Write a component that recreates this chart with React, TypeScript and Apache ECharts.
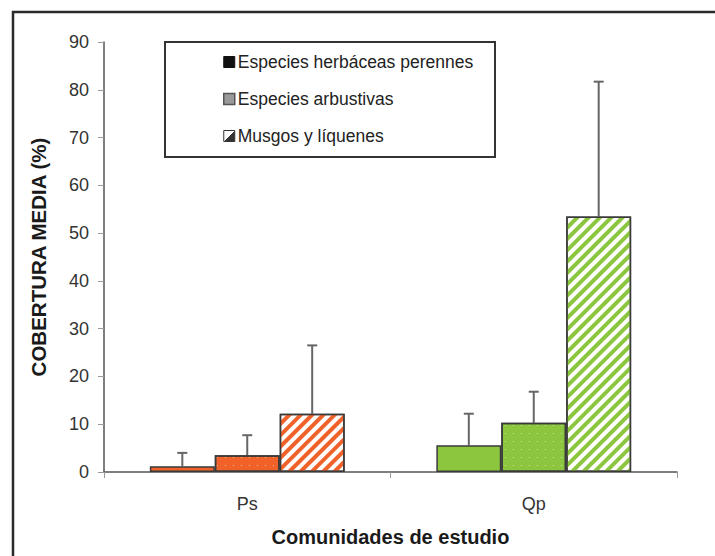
import React, { useEffect, useRef } from "react";
import * as echarts from "echarts";

const categories = ["Ps", "Qp"];
const seriesNames = ["Especies herbáceas perennes", "Especies arbustivas", "Musgos y líquenes"];
const herbaceas = [1.2, 5.6];
const arbustivas = [3.5, 10.3];
const musgos = [12.2, 53.5];
const herbaceasUpper = [4.0, 12.2];
const arbustivasUpper = [7.7, 16.8];
const musgosUpper = [26.5, 81.7];
const yTicks = [0, 10, 20, 30, 40, 50, 60, 70, 80, 90];
const groupColors = ["#f0622a", "#8cc63f"];
const dotColors = ["rgba(255,200,150,0.75)", "rgba(220,240,160,0.75)"];

const FONT = "Liberation Sans, Arial, sans-serif";
const BORDER = "#3a3a3a";
const CAT_GAP = 0.32;

export default function App() {
  const ref = useRef<HTMLDivElement>(null);
  useEffect(() => {
    if (!ref.current) return;
    const chart = echarts.init(ref.current, undefined, { renderer: "svg" });

    const solidData = herbaceas.map((v, i) => ({
      value: v,
      itemStyle: { color: groupColors[i], borderColor: BORDER, borderWidth: 1.5 },
    }));
    const dotData = arbustivas.map((v, i) => ({
      value: v,
      itemStyle: {
        color: groupColors[i],
        borderColor: BORDER,
        borderWidth: 1.5,
        decal: {
          symbol: "rect",
          symbolSize: 0.35,
          color: dotColors[i],
          dashArrayX: [[3, 5]],
          dashArrayY: [3, 5],
          rotation: 0,
        },
      },
    }));
    const hatchData = musgos.map((v, i) => ({
      value: v,
      itemStyle: {
        color: "#ffffff",
        borderColor: BORDER,
        borderWidth: 1.5,
        decal: {
          symbol: "rect",
          symbolSize: 1,
          color: groupColors[i],
          dashArrayX: [1, 0],
          dashArrayY: [3.8, 3.8],
          rotation: -Math.PI / 4,
        },
      },
    }));

    const uppers = [herbaceasUpper, arbustivasUpper, musgosUpper];
    const values = [herbaceas, arbustivas, musgos];
    const errData: number[][] = [];
    for (let s = 0; s < 3; s++) {
      for (let c = 0; c < categories.length; c++) {
        errData.push([c, values[s][c], uppers[s][c], s]);
      }
    }

    const option: any = {
      animation: false,
      backgroundColor: "#ffffff",
      textStyle: { fontFamily: FONT },
      grid: { left: 104, top: 42, right: 38, bottom: 84 },
      legend: {
        show: true,
        orient: "vertical",
        left: 218,
        top: 48,
        itemWidth: 11,
        itemHeight: 11,
        itemGap: 19,
        icon: "rect",
        textStyle: { fontFamily: FONT, fontSize: 17.5, color: "#222", padding: [0, 0, 0, -2] },
        data: [
          { name: seriesNames[0], itemStyle: { color: "#111", borderColor: "#111", borderWidth: 1 } },
          { name: seriesNames[1], itemStyle: { color: "#999", borderColor: "#555", borderWidth: 1.5 } },
          {
            name: seriesNames[2],
            itemStyle: {
              color: {
                type: "linear",
                x: 0, y: 0, x2: 1, y2: 1,
                colorStops: [
                  { offset: 0, color: "#fff" },
                  { offset: 0.5, color: "#fff" },
                  { offset: 0.5, color: "#333" },
                  { offset: 1, color: "#333" },
                ],
              },
              borderColor: "#333",
              borderWidth: 1,
            },
          },
        ],
      },
      graphic: [
        {
          type: "rect",
          shape: { x: 13, y: 12, width: 760, height: 600 },
          style: { fill: "none", stroke: "#2a2a2a", lineWidth: 2.5 },
          z: 10,
        },
        {
          type: "rect",
          shape: { x: 165, y: 42, width: 330, height: 115 },
          style: { fill: "#fff", stroke: "#333", lineWidth: 2 },
          z: 0,
        },
      ],
      xAxis: {
        type: "category",
        data: categories,
        name: "Comunidades de estudio",
        nameLocation: "middle",
        nameGap: 55,
        nameTextStyle: { fontFamily: FONT, fontSize: 20, fontWeight: "bold", color: "#1a1a1a" },
        axisLine: { lineStyle: { color: "#555", width: 1.5 } },
        axisTick: { show: true, length: 6, lineStyle: { color: "#999", width: 1 } },
        axisLabel: { fontFamily: FONT, fontSize: 18, color: "#333", margin: 23 },
      },
      yAxis: {
        type: "value",
        min: 0,
        max: 90,
        interval: 10,
        name: "COBERTURA MEDIA (%)",
        nameLocation: "middle",
        nameGap: 55,
        nameRotate: 90,
        nameTextStyle: { fontFamily: FONT, fontSize: 20.5, fontWeight: "bold", color: "#1a1a1a" },
        axisLine: { show: true, lineStyle: { color: "#555", width: 1.5 } },
        axisTick: { show: true, length: 6, lineStyle: { color: "#999", width: 1 } },
        axisLabel: {
          fontFamily: FONT,
          fontSize: 18,
          color: "#333",
          margin: 15,
          formatter: (v: number) => (yTicks.includes(v) ? String(v) : ""),
        },
        splitLine: { show: false },
      },
      series: [
        {
          name: seriesNames[0],
          type: "bar",
          barGap: "0%",
          barCategoryGap: CAT_GAP * 100 + "%",
          itemStyle: { color: "#111" },
          data: solidData,
          z: 2,
        },
        {
          name: seriesNames[1],
          type: "bar",
          barGap: "0%",
          barCategoryGap: CAT_GAP * 100 + "%",
          itemStyle: { color: "#999" },
          data: dotData,
          z: 2,
        },
        {
          name: seriesNames[2],
          type: "bar",
          barGap: "0%",
          barCategoryGap: CAT_GAP * 100 + "%",
          itemStyle: { color: "#333" },
          data: hatchData,
          z: 2,
        },
        {
          type: "custom",
          name: "err",
          z: 1,
          silent: true,
          data: errData,
          renderItem: (params: any, api: any) => {
            const c = api.value(0);
            const lo = api.value(1);
            const hi = api.value(2);
            const s = api.value(3);
            const catW = api.size([1, 0])[0];
            const barW = (catW * (1 - CAT_GAP)) / 3;
            const p0 = api.coord([c, lo]);
            const p1 = api.coord([c, hi]);
            const x = p0[0] + (s - 1) * barW;
            const cap = 5;
            return {
              type: "group",
              children: [
                {
                  type: "line",
                  shape: { x1: x, y1: p0[1], x2: x, y2: p1[1] },
                  style: { stroke: "#666", lineWidth: 2 },
                },
                {
                  type: "line",
                  shape: { x1: x - cap, y1: p1[1], x2: x + cap, y2: p1[1] },
                  style: { stroke: "#666", lineWidth: 2 },
                },
              ],
            };
          },
        },
      ],
    };
    chart.setOption(option);
    return () => chart.dispose();
  }, []);
  return (
    <div
      ref={ref}
      style={{ position: "fixed", left: 0, top: 0, width: 715, height: 556, background: "#fff" }}
    />
  );
}
